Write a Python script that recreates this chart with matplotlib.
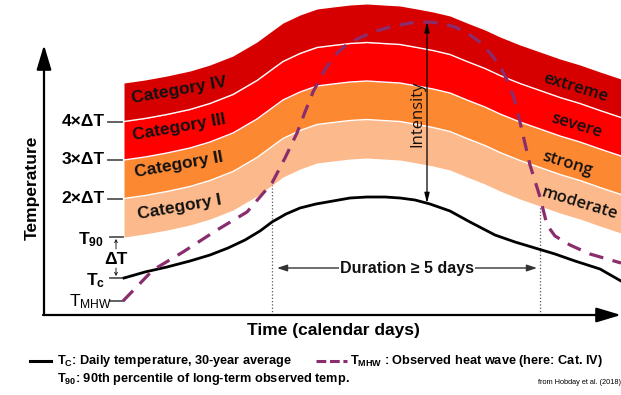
import numpy as np
import matplotlib
matplotlib.use("Agg")
import matplotlib.pyplot as plt

plt.rcParams['mathtext.default'] = 'regular'
SANS = ['Liberation Sans', 'DejaVu Sans']
OPEN = ['Open Sans', 'DejaVu Sans']

# climatology Tc (x = time, y = temperature, schematic units)
tc_x = [124, 145, 167, 190, 210, 228, 245, 260, 272, 286, 300, 316, 333, 350, 367,
        385, 400, 415, 430, 450, 470, 495, 515, 535, 555, 575, 600, 621]
tc_y = [117, 123, 128, 134, 140, 147, 155, 164, 173, 181, 187, 191, 194, 197, 198,
        198, 197, 195, 191, 184, 173, 160, 153, 147, 141, 134, 126, 114]

# 90th percentile threshold T90 (bottom of category I)
t90_x = [124, 145, 167, 190, 210, 233, 245, 257, 272, 283, 300, 317, 333, 350, 367,
         383, 400, 417, 433, 450, 467, 485, 500, 520, 540, 560, 580, 600, 621]
t90_y = [158, 161, 165, 170, 176, 185, 192, 199, 210, 218, 226, 232, 234, 236, 237,
         236, 235, 232, 229, 225, 218, 211, 204, 196, 189, 182, 176, 169, 162]
dT = 38.5

# observed heat wave
hw_x = [123, 153, 183, 217, 247, 272, 285, 297, 305, 313, 323, 333, 345, 357, 373,
        390, 410, 427, 440, 455, 467, 480, 490, 500, 507, 514, 520, 530, 540, 547,
        555, 570, 590, 621]
hw_y = [94, 125, 143, 165, 183, 212, 237, 262, 283, 303, 322, 338, 349, 356, 363,
        368, 372, 373, 372, 368, 362, 353, 342, 329, 315, 297, 273, 230, 198, 170,
        159, 150, 141, 132]

event_start, event_end = 272, 540

cat_names = ['Category I', 'Category II', 'Category III', 'Category IV']
cat_words = ['moderate', 'strong', 'severe', 'extreme']
cat_colors = ['#fcb98b', '#fc8832', '#ff0000', '#d70000']
tick_names = ['2×ΔT', '3×ΔT', '4×ΔT']

t90_x = np.array(t90_x)
t90_y = np.array(t90_y, dtype=float)

fig = plt.figure(figsize=(6.21, 3.95), dpi=100)
ax = fig.add_axes([0, 0, 1, 1])
ax.set_xlim(0, 621)
ax.set_ylim(0, 395)
ax.axis('off')

# category bands
for k in range(4):
    ax.fill_between(t90_x, t90_y + k * dT, t90_y + (k + 1) * dT,
                    color=cat_colors[k], lw=0, zorder=1)
for k in range(1, 4):
    ax.plot(t90_x, t90_y + k * dT, color='white', lw=1.0, zorder=2)

# category labels (left) and words (right)
cat_lab_y = [188, 230, 268, 305]
for k in range(4):
    ax.text(179, cat_lab_y[k], cat_names[k], rotation=10, ha='center', va='center',
            fontsize=12.5, fontweight='bold', family=SANS, color='#111', zorder=5)
word_pos = [(580, 191), (567, 231), (576, 269), (575, 307)]
for k in range(4):
    ax.text(word_pos[k][0], word_pos[k][1], cat_words[k], rotation=-17,
            ha='center', va='center', fontsize=12, fontweight='semibold',
            family=OPEN, color='#111', zorder=5)

# event duration dotted lines
for xe in (event_start, event_end):
    ax.plot([xe, xe], [80, np.interp(xe, t90_x, t90_y)], ls=':', color='#555',
            lw=0.9, zorder=3)

# curves
ax.plot(tc_x, tc_y, color='black', lw=2.0, zorder=4)
ax.plot(hw_x, hw_y, color='#8a2d6c', lw=2.3, dashes=(4.5, 3), zorder=4)

# intensity arrow
ipk = int(np.argmax(hw_y))
xi = hw_x[ipk]
ax.annotate('', xy=(xi, hw_y[ipk]), xytext=(xi, np.interp(xi, tc_x, tc_y)),
            arrowprops=dict(arrowstyle='<|-|>,head_length=0.6,head_width=0.15',
                            lw=0.9, color='black', shrinkA=0, shrinkB=0), zorder=6)
ax.text(417, 281, 'Intensity', rotation=90, ha='center', va='center',
        fontsize=12, family=OPEN, color='#111', zorder=6)

# duration arrow
ax.annotate('', xy=(event_start + 5, 127), xytext=(event_end - 3, 127),
            arrowprops=dict(arrowstyle='<|-|>,head_length=0.6,head_width=0.2',
                            lw=1.0, color='#333', shrinkA=0, shrinkB=0), zorder=6)
ax.text(407, 127, 'Duration ≥ 5 days', ha='center', va='center', fontsize=11.5,
        fontweight='bold', family=SANS, color='#111', zorder=7,
        bbox=dict(facecolor='white', edgecolor='none', pad=0.5))

# axes arrows
ax.annotate('', xy=(44, 350), xytext=(44, 80),
            arrowprops=dict(arrowstyle='-|>,head_length=1.0,head_width=0.3',
                            lw=1.6, color='black', shrinkA=0, shrinkB=0,
                            mutation_scale=15))
ax.annotate('', xy=(621, 80), xytext=(43, 80),
            arrowprops=dict(arrowstyle='-|>,head_length=1.0,head_width=0.3',
                            lw=1.6, color='black', shrinkA=0, shrinkB=0,
                            mutation_scale=15))

ax.text(333, 65, 'Time (calendar days)', ha='center', va='center', fontsize=12.5,
        fontweight='bold', family=SANS)
ax.text(32, 207, 'Temperature', rotation=90, ha='center', va='center',
        fontsize=12.5, fontweight='bold', family=SANS)

# y ticks
for k in range(3):
    yk = t90_y[0] + (k + 1) * dT
    ax.plot([108, 122], [yk, yk], color='#555', lw=1.3)
    ax.text(105, yk, tick_names[k], ha='right', va='center', fontsize=12.5,
            fontweight='bold', family=SANS)
for yk in (t90_y[0], tc_y[0], hw_y[0]):
    ax.plot([110, 123], [yk, yk], color='#555', lw=1.3)
ax.text(104, t90_y[0] - 3, 'T$_{90}$', ha='right', va='center', fontsize=12.5,
        fontweight='bold', family=SANS)
ax.text(105, tc_y[0] - 3, 'T$_{c}$', ha='right', va='center', fontsize=12.5,
        fontweight='bold', family=SANS)
ax.text(112, hw_y[0] - 1, 'T$_{MHW}$', ha='right', va='center', fontsize=12.5,
        family=SANS)
ax.text(116, 135, 'ΔT', ha='center', va='center', fontsize=12.5,
        fontweight='bold', family=SANS)
ax.annotate('', xy=(116, t90_y[0] - 2), xytext=(116, 146),
            arrowprops=dict(arrowstyle='->', lw=0.6, color='black',
                            shrinkA=0, shrinkB=0, mutation_scale=5))
ax.annotate('', xy=(116, tc_y[0] + 2), xytext=(116, 127),
            arrowprops=dict(arrowstyle='->', lw=0.6, color='black',
                            shrinkA=0, shrinkB=0, mutation_scale=5))

# legend
ax.plot([30, 51], [34, 34], color='black', lw=2.2)
ax.text(57, 34, 'T$_{C}$: Daily temperature, 30-year average', ha='left',
        va='center', fontsize=9.2, fontweight='bold', family=SANS)
ax.plot([316, 347], [34, 34], color='#8a2d6c', lw=2.2, dashes=(3.2, 1.2))
ax.text(350, 34, 'T$_{MHW}$ : Observed heat wave (here: Cat. IV)', ha='left',
        va='center', fontsize=9.2, fontweight='bold', family=SANS)
ax.text(57, 16, 'T$_{90}$: 90th percentile of long-term observed temp.', ha='left',
        va='center', fontsize=9.2, fontweight='bold', family=SANS)
ax.text(621, 13, 'from Hobday et al. (2018)', ha='right', va='center',
        fontsize=5.3, family=SANS)

fig.savefig('out.png', dpi=100)
